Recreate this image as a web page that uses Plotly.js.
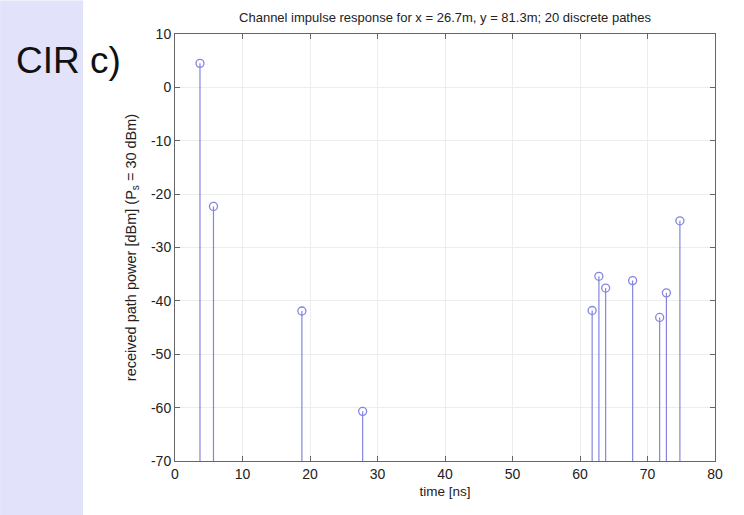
<!DOCTYPE html>
<html>
<head>
<meta charset="utf-8">
<script src="https://cdn.plot.ly/plotly-3.0.1.min.js"></script>
<style>
  html, body { margin: 0; padding: 0; background: #ffffff; }
  #chart { width: 744px; height: 515px; }
</style>
</head>
<body>
<div id="chart"></div>
<script>
// Path delays (ns) and received powers (dBm)
const delays = [3.7, 5.7, 18.8, 27.8, 61.8, 62.8, 63.8, 67.8, 71.8, 72.8, 74.8];
const powers = [4.5, -22.3, -41.9, -60.7, -41.8, -35.4, -37.6, -36.2, -43.1, -38.5, -25.0];
const stemBase = -70;
const xTicks = [0, 10, 20, 30, 40, 50, 60, 70, 80];
const yTicks = [10, 0, -10, -20, -30, -40, -50, -60, -70];

const stemX = [], stemY = [];
delays.forEach((t, i) => { stemX.push(t, t, null); stemY.push(stemBase, powers[i], null); });

const col = '#8585e0';
const W = 744, H = 515;
const m = {l: 175, r: 28.5, t: 33.5, b: 54};
const pw = W - m.l - m.r, ph = H - m.t - m.b;
const px = p => (p - m.l) / pw;
const py = p => 1 - (p - m.t) / ph;
const FONT = 'Liberation Sans, Arial, sans-serif';

const traces = [
  {x: stemX, y: stemY, mode: 'lines', line: {color: col, width: 1.2}, hoverinfo: 'skip', showlegend: false},
  {x: delays, y: powers, mode: 'markers', marker: {symbol: 'circle-open', size: 8, color: col, line: {width: 1.3, color: col}}, showlegend: false}
];

const axisCommon = {
  showline: true, linecolor: '#666', linewidth: 1, mirror: 'ticks',
  ticks: 'inside', ticklen: 5, tickcolor: '#666',
  showgrid: true, gridcolor: '#ededed', gridwidth: 1,
  zeroline: false, tickfont: {family: FONT, size: 14, color: '#222'}
};

const layout = {
  width: W, height: H,
  margin: m,
  paper_bgcolor: '#ffffff', plot_bgcolor: '#ffffff',
  title: {text: 'Channel impulse response for x = 26.7m, y = 81.3m; 20 discrete pathes',
          font: {family: FONT, size: 13, color: '#222'},
          xref: 'container', x: 445 / W, xanchor: 'center', yref: 'container', y: 1 - 17.5 / H, yanchor: 'middle'},
  xaxis: Object.assign({}, axisCommon, {
    range: [0, 80], tickvals: xTicks, ticktext: xTicks.map(String),
    title: {text: 'time [ns]', font: {family: FONT, size: 13.5, color: '#222'}, standoff: 5}
  }),
  yaxis: Object.assign({}, axisCommon, {
    range: [-70, 10], tickvals: yTicks, ticktext: yTicks.map(String),
    title: {text: 'received path power [dBm] (P<sub>s</sub> = 30 dBm)', font: {family: FONT, size: 14.5, color: '#222'}, standoff: 10}
  }),
  shapes: [
    {type: 'rect', xref: 'paper', yref: 'paper', x0: px(0), x1: px(83), y0: py(H), y1: py(0),
     fillcolor: '#e2e2fa', line: {width: 0}, layer: 'below'}
  ],
  annotations: [
    {text: 'CIR c)', xref: 'paper', yref: 'paper', x: px(14), y: py(60), xanchor: 'left', yanchor: 'middle',
     showarrow: false, font: {family: FONT, size: 37, color: '#111'}}
  ]
};

Plotly.newPlot('chart', traces, layout, {displayModeBar: false, staticPlot: true});
</script>
</body>
</html>
